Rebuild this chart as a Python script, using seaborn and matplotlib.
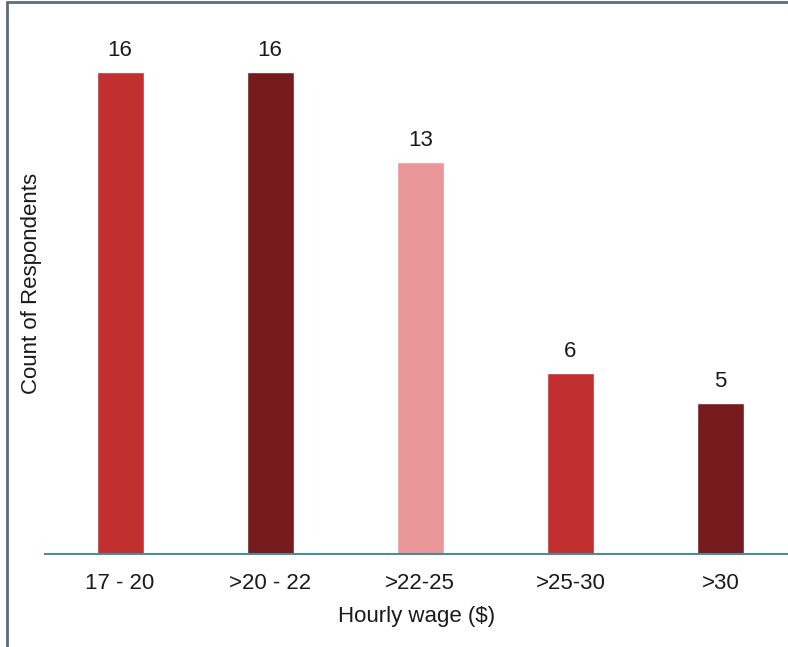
import matplotlib
matplotlib.use("Agg")
import matplotlib.pyplot as plt
from matplotlib.lines import Line2D
import seaborn as sns
import pandas as pd

categories = ["17 - 20", ">20 - 22", ">22-25", ">25-30", ">30"]
counts = [16, 16, 13, 6, 5]
bar_colors = ["#C22F30", "#751B1D", "#EA9799", "#C22F30", "#751B1D"]

sns.set_theme(style="white")
plt.rcParams["font.family"] = ["Liberation Sans", "DejaVu Sans"]

df = pd.DataFrame({"wage": categories, "count": counts})

fig = plt.figure(figsize=(7.88, 6.47), dpi=100)
ax = fig.add_axes([45 / 788, (647 - 554) / 647, 1 - 45 / 788, (554 - 10) / 647])

sns.barplot(data=df, x="wage", y="count", hue="wage", palette=bar_colors,
            legend=False, width=47 / 150, ax=ax, saturation=1)

for i, v in enumerate(counts):
    ax.annotate(str(v), (i, v), xytext=(0, 8), textcoords="offset points",
                ha="center", va="bottom", fontsize=16, color="#1a1a1a")

ax.set_xlim(-0.5, 4.45)
ax.set_ylim(0, 18.06)
ax.set_yticks([])
for s in ["top", "right", "left"]:
    ax.spines[s].set_visible(False)
ax.spines["bottom"].set_color("#4f8b93")
ax.spines["bottom"].set_linewidth(1.5)
ax.tick_params(axis="x", length=0, labelsize=16, colors="#1a1a1a", pad=14)
ax.set_xlabel("Hourly wage ($)", fontsize=16, color="#1a1a1a", labelpad=8)
ax.set_ylabel("")
fig.text(32 / 788, 1 - 283 / 647, "Count of Respondents", rotation=90,
         ha="center", va="center", fontsize=16, color="#1a1a1a")

# screenshot frame lines (top and left)
fig.add_artist(Line2D([6.5 / 788, 1], [1 - 2 / 647, 1 - 2 / 647],
                      transform=fig.transFigure, color="#5f6d78", lw=2))
fig.add_artist(Line2D([6.5 / 788, 6.5 / 788], [0, 1 - 2 / 647],
                      transform=fig.transFigure, color="#5f6d78", lw=2))

fig.savefig("out.png", dpi=100)
